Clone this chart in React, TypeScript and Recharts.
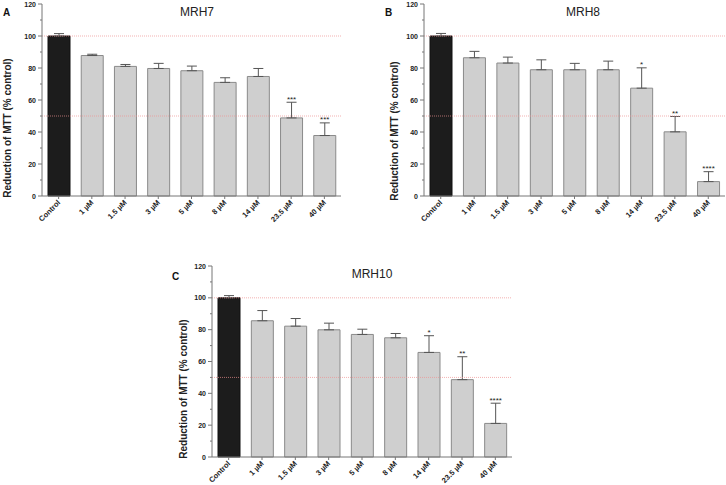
import React from "react";
import {
  Bar,
  BarChart,
  Cell,
  ErrorBar,
  LabelList,
  ReferenceLine,
  XAxis,
  YAxis,
} from "recharts";

const doses = ["Control", "1 µM", "1.5 µM", "3 µM", "5 µM", "8 µM", "14 µM", "23.5 µM", "40 µM"];
const yTicks = [0, 10, 20, 30, 40, 50, 60, 70, 80, 90, 100, 110, 120];
const refLevels = [100, 50];

const mrh7Mean = [100, 87.8, 81.0, 79.7, 78.3, 71.0, 74.7, 48.8, 37.8];
const mrh7Err = [1.5, 0.8, 1.2, 3.2, 2.9, 2.9, 5.0, 9.8, 7.9];
const mrh7Sig = ["", "", "", "", "", "", "", "***", "***"];

const mrh8Mean = [100, 86.4, 83.1, 78.9, 78.9, 78.9, 67.4, 40.1, 9.0];
const mrh8Err = [1.6, 4.0, 3.7, 6.2, 4.0, 5.4, 12.7, 9.6, 6.2];
const mrh8Sig = ["", "", "", "", "", "", "*", "**", "****"];

const mrh10Mean = [100, 85.6, 82.2, 79.9, 77.0, 74.9, 65.7, 48.6, 21.1];
const mrh10Err = [1.4, 6.4, 4.8, 4.2, 3.3, 2.7, 10.5, 14.4, 12.7];
const mrh10Sig = ["", "", "", "", "", "", "*", "**", "****"];

const FONT = "'Liberation Sans', Arial, sans-serif";
const AXIS = "#777";
const Y_TICK_SIZE = 4;
const Y_TICK_MARGIN = 2;

// y ticks every 10, labels only on the 20s (minor ticks are shorter)
const YTick = (props: any) => {
  const { x, y, payload } = props;
  const axisX = x + Y_TICK_SIZE + Y_TICK_MARGIN;
  const major = payload.value % 20 === 0;
  return (
    <g>
      <line x1={axisX - (major ? 4 : 2)} x2={axisX} y1={y} y2={y} stroke={AXIS} />
      {major && (
        <text x={x} y={y} dy={2.5} textAnchor="end" fontSize={7} fontWeight="bold" fill="#222" fontFamily={FONT}>
          {payload.value}
        </text>
      )}
    </g>
  );
};

const XTick = (props: any) => {
  const { x, y, payload } = props;
  return (
    <g transform={`translate(${x},${y})`}>
      <text transform="rotate(-45)" textAnchor="end" dy={3} fontSize={7.5} fontWeight="bold" fill="#222" fontFamily={FONT}>
        {payload.value}
      </text>
    </g>
  );
};

const starLabel = (mean: number[], err: number[]) => (props: any) => {
  const vb = props.viewBox ?? {};
  const x = props.x ?? vb.x;
  const y = props.y ?? vb.y;
  const width = props.width ?? vb.width;
  const height = Math.abs(props.height ?? vb.height);
  const { value, index } = props;
  if (!value) return null;
  const pxPerUnit = height / mean[index];
  const top = y - err[index] * pxPerUnit;
  return (
    <text x={x + width / 2} y={top - 0.5} textAnchor="middle" fontSize={8} fill="#222" fontFamily={FONT}>
      {value}
    </text>
  );
};

type PanelProps = {
  letter: string;
  title: string;
  mean: number[];
  err: number[];
  sig: string[];
  left: number;
  top: number;
  width: number;
  height: number;
  margin: { top: number; right: number; bottom: number; left: number };
  yAxisWidth: number;
  xAxisHeight: number;
  letterX: number;
  letterY: number;
  titleX: number;
  titleY: number;
  labelX: number;
  labelY: number;
};

function Panel(p: PanelProps) {
  const rows = doses.map((dose, i) => ({
    dose,
    mean: p.mean[i],
    err: [0, p.err[i]],
    sig: p.sig[i],
  }));
  return (
    <div style={{ position: "absolute", left: p.left, top: p.top, width: p.width, height: p.height }}>
      <BarChart width={p.width} height={p.height} data={rows} margin={p.margin}>
        <XAxis
          dataKey="dose"
          height={p.xAxisHeight}
          interval={0}
          tick={<XTick />}
          tickSize={3}
          tickMargin={2}
          axisLine={{ stroke: AXIS }}
          tickLine={{ stroke: AXIS }}
        />
        <YAxis
          width={p.yAxisWidth}
          domain={[0, 120]}
          ticks={yTicks}
          interval={0}
          tick={<YTick />}
          tickSize={Y_TICK_SIZE}
          tickMargin={Y_TICK_MARGIN}
          tickLine={false}
          axisLine={{ stroke: AXIS }}
        />
        <Bar dataKey="mean" barSize={22} strokeWidth={1} isAnimationActive={false}>
          {rows.map((r, i) => (
            <Cell key={r.dose} fill={i === 0 ? "#1c1c1c" : "#cfcfcf"} stroke={i === 0 ? "#111" : "#8a8a8a"} />
          ))}
          <ErrorBar dataKey="err" width={5} stroke="#555" strokeWidth={1} isAnimationActive={false} />
          <LabelList dataKey="sig" content={starLabel(p.mean, p.err)} />
        </Bar>
        {refLevels.map((v) => (
          <ReferenceLine key={v} y={v} stroke="#ee8f8f" strokeWidth={0.7} strokeDasharray="1 1" />
        ))}
      </BarChart>
      <svg
        width={p.width}
        height={p.height}
        style={{ position: "absolute", left: 0, top: 0, pointerEvents: "none" }}
        fontFamily={FONT}
      >
        <text x={p.letterX} y={p.letterY} fontSize={10} fontWeight="bold" fill="#111">
          {p.letter}
        </text>
        <text x={p.titleX} y={p.titleY} fontSize={12} textAnchor="middle" fill="#222">
          {p.title}
        </text>
        <text
          x={p.labelX}
          y={p.labelY}
          fontSize={10}
          fontWeight="bold"
          textAnchor="middle"
          fill="#222"
          transform={`rotate(-90 ${p.labelX} ${p.labelY})`}
        >
          Reduction of MTT (% control)
        </text>
      </svg>
    </div>
  );
}

export default function App() {
  return (
    <div
      style={{
        position: "fixed",
        left: 0,
        top: 0,
        width: 726,
        height: 485,
        background: "#fff",
        overflow: "hidden",
        fontFamily: FONT,
      }}
    >
      <Panel
        letter="A"
        title="MRH7"
        mean={mrh7Mean}
        err={mrh7Err}
        sig={mrh7Sig}
        left={0}
        top={0}
        width={363}
        height={245}
        margin={{ top: 4, right: 22, bottom: 0, left: 0 }}
        yAxisWidth={42}
        xAxisHeight={49}
        letterX={3}
        letterY={16}
        titleX={197}
        titleY={16}
        labelX={11}
        labelY={128}
      />
      <Panel
        letter="B"
        title="MRH8"
        mean={mrh8Mean}
        err={mrh8Err}
        sig={mrh8Sig}
        left={363}
        top={0}
        width={363}
        height={245}
        margin={{ top: 4, right: 1, bottom: 0, left: 0 }}
        yAxisWidth={61}
        xAxisHeight={49}
        letterX={22}
        letterY={16}
        titleX={220}
        titleY={16}
        labelX={35}
        labelY={131}
      />
      <Panel
        letter="C"
        title="MRH10"
        mean={mrh10Mean}
        err={mrh10Err}
        sig={mrh10Sig}
        left={160}
        top={250}
        width={363}
        height={235}
        margin={{ top: 16, right: 11, bottom: 0, left: 0 }}
        yAxisWidth={52}
        xAxisHeight={28}
        letterX={12}
        letterY={30}
        titleX={212}
        titleY={28}
        labelX={27}
        labelY={139}
      />
    </div>
  );
}
